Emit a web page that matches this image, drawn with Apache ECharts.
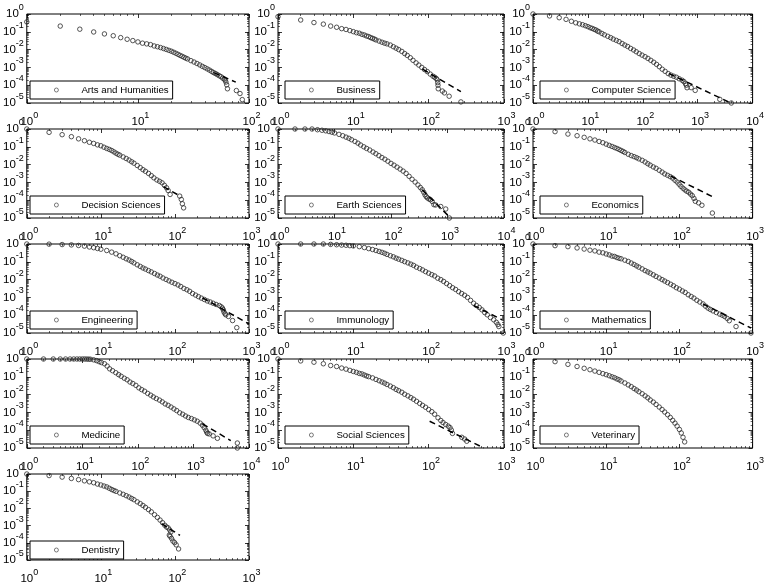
<!DOCTYPE html>
<html><head><meta charset="utf-8">
<script src="https://cdn.jsdelivr.net/npm/echarts@6/dist/echarts.min.js"></script>
<style>html,body{margin:0;padding:0;background:#fff}#c{width:767px;height:585px}</style>
</head><body><div id="c"></div>
<script>
const panelNames = ['Arts and Humanities','Business','Computer Science','Decision Sciences','Earth Sciences','Economics','Engineering','Immunology','Mathematics','Medicine','Social Sciences','Veterinary','Dentistry'];
const xAxisMax = [100,1000,10000,1000,10000,1000,1000,1000,1000,10000,1000,1000,1000];

const artsData = [[1,0.36],[2,0.21],[3,0.14],[4,0.098],[5,0.076],[6,0.060],[7,0.047],[8,0.038],[9,0.032],[10,0.027],[11,0.023],[12,0.021],[13,0.019],[14,0.016],[15,0.0145],[16,0.013],[17,0.0115],[18,0.0102],[19,9.1e-3],[20,8.1e-3],[21,7.1e-3],[22,6.2e-3],[23,5.4e-3],[24,4.7e-3],[25,4.2e-3],[26,3.7e-3],[27,3.3e-3],[28,3.0e-3],[30,2.4e-3],[32,2.0e-3],[34,1.66e-3],[36,1.38e-3],[38,1.15e-3],[40,9.8e-4],[42,8.3e-4],[44,7.1e-4],[46,6.0e-4],[48,5.1e-4],[50,4.5e-4],[52,3.9e-4],[54,3.4e-4],[56,3.0e-4],[58,2.5e-4],[60,2.2e-4],[61,1.9e-4],[62,1.5e-4],[63,1.05e-4],[64,6.3e-5],[77,5.0e-5],[83,3.4e-5],[87,1.55e-5]];
const businessData = [[1,0.71],[2,0.46],[3,0.33],[4,0.27],[5,0.21],[6,0.18],[7,0.15],[8,0.135],[9,0.117],[10,0.102],[11,0.089],[12,0.083],[13,0.072],[14,0.066],[15,0.058],[16,0.054],[17,0.047],[18,0.043],[19,0.039],[20,0.035],[22,0.030],[24,0.026],[26,0.023],[28,0.021],[31,0.018],[34,0.0145],[37,0.012],[40,0.010],[44,7.9e-3],[48,6.0e-3],[52,4.7e-3],[57,3.5e-3],[62,2.5e-3],[68,1.8e-3],[74,1.35e-3],[81,1.0e-3],[88,7.6e-4],[96,5.8e-4],[105,4.2e-4],[114,3.2e-4],[120,2.8e-4],[126,2.4e-4],[130,2.0e-4],[132,1.4e-4],[133,1.0e-4],[134,6.3e-5],[152,4.7e-5],[162,3.7e-5],[187,2.4e-5],[268,1.15e-5]];
const compSciData = [[1,1],[2,0.78],[3,0.62],[4,0.50],[5,0.39],[6,0.32],[7,0.28],[8,0.25],[9,0.22],[10,0.195],[11,0.17],[12,0.155],[13,0.138],[14,0.126],[15,0.11],[16,0.1],[18,0.081],[20,0.068],[23,0.056],[26,0.047],[29,0.039],[33,0.033],[37,0.028],[42,0.022],[47,0.018],[53,0.015],[60,0.0117],[68,9.5e-3],[76,7.6e-3],[86,6.0e-3],[97,4.9e-3],[110,4.0e-3],[124,3.2e-3],[140,2.5e-3],[158,1.95e-3],[178,1.48e-3],[200,1.1e-3],[226,7.9e-4],[255,6.0e-4],[290,4.5e-4],[325,3.7e-4],[365,3.2e-4],[410,2.8e-4],[460,2.3e-4],[520,1.9e-4],[560,1.6e-4],[600,1.23e-4],[620,1.0e-4],[640,7.2e-5],[760,7.3e-5],[900,5.1e-5],[2530,1.6e-5],[4100,1.0e-5]];
const decisionData = [[1,1],[2,0.65],[3,0.48],[4,0.37],[5,0.28],[6,0.22],[7,0.18],[8,0.155],[9,0.129],[10,0.115],[11,0.095],[12,0.081],[13,0.071],[14,0.062],[15,0.052],[16,0.044],[17,0.038],[18,0.034],[20,0.027],[22,0.022],[24,0.018],[26,0.0145],[28,0.012],[31,8.9e-3],[34,6.8e-3],[37,5.2e-3],[40,4.2e-3],[44,3.2e-3],[48,2.4e-3],[52,1.8e-3],[57,1.38e-3],[62,1.15e-3],[67,9.5e-4],[72,6.9e-4],[77,5.0e-4],[81,3.5e-4],[86,2.1e-4],[116,1.7e-4],[122,1.1e-4],[126,6.3e-5],[131,3.7e-5]];
const earthData = [[1,1],[2,1],[3,1],[4,1],[5,0.91],[6,0.85],[7,0.79],[8,0.72],[9,0.66],[10,0.60],[12,0.50],[14,0.42],[16,0.35],[18,0.30],[20,0.25],[23,0.20],[26,0.16],[29,0.126],[33,0.1],[37,0.081],[42,0.066],[48,0.051],[54,0.041],[61,0.032],[69,0.025],[78,0.020],[88,0.0155],[100,0.0117],[113,9.3e-3],[128,7.2e-3],[145,5.6e-3],[164,4.3e-3],[185,3.2e-3],[209,2.2e-3],[236,1.5e-3],[267,1.05e-3],[300,7.2e-4],[330,5.2e-4],[357,3.9e-4],[380,2.8e-4],[400,2.0e-4],[420,1.6e-4],[440,1.35e-4],[470,1.17e-4],[500,1.07e-4],[537,8.5e-5],[576,5.6e-5],[617,5.4e-5],[760,4.4e-5],[930,3.2e-5],[1080,1.0e-5]];
const economicsData = [[1,1],[2,0.71],[3,0.52],[4,0.42],[5,0.34],[6,0.28],[7,0.24],[8,0.20],[9,0.17],[10,0.141],[11,0.12],[12,0.105],[13,0.091],[14,0.081],[15,0.071],[16,0.062],[17,0.055],[18,0.048],[20,0.038],[22,0.032],[24,0.028],[26,0.0245],[28,0.021],[31,0.0174],[34,0.014],[37,0.0112],[40,9.3e-3],[44,7.4e-3],[48,6.2e-3],[53,4.8e-3],[58,3.8e-3],[63,3.0e-3],[69,2.5e-3],[75,2.1e-3],[81,1.74e-3],[87,1.32e-3],[93,1.05e-3],[99,7.9e-4],[105,6.0e-4],[112,4.7e-4],[119,3.8e-4],[126,3.2e-4],[134,2.8e-4],[142,2.2e-4],[150,1.8e-4],[158,1.26e-4],[165,8.7e-5],[183,7.1e-5],[203,5.2e-5],[282,1.9e-5]];
const engineeringData = [[1,1],[2,0.98],[3,0.93],[4,0.89],[5,0.83],[6,0.76],[7,0.68],[8,0.62],[9,0.56],[10,0.51],[12,0.43],[14,0.35],[16,0.28],[18,0.22],[20,0.18],[22,0.148],[24,0.126],[26,0.105],[28,0.087],[31,0.068],[34,0.055],[37,0.045],[40,0.039],[44,0.032],[48,0.027],[53,0.022],[58,0.018],[63,0.0155],[69,0.0123],[76,0.0102],[83,8.5e-3],[91,7.1e-3],[100,6.0e-3],[110,5.0e-3],[120,4.1e-3],[132,3.2e-3],[145,2.7e-3],[158,2.2e-3],[173,1.66e-3],[190,1.35e-3],[208,1.1e-3],[228,9.1e-4],[250,7.6e-4],[274,6.3e-4],[300,5.5e-4],[328,4.7e-4],[360,4.0e-4],[397,3.5e-4],[420,3.0e-4],[438,2.5e-4],[450,2.0e-4],[460,1.5e-4],[475,1.2e-4],[486,1.05e-4],[528,8.5e-5],[600,5.0e-5],[684,2.0e-5]];
const immunologyData = [[1,1],[2,1],[3,1],[4,1],[5,0.95],[6,0.91],[7,0.87],[8,0.85],[9,0.81],[10,0.78],[12,0.71],[14,0.63],[16,0.55],[18,0.49],[20,0.43],[22,0.38],[24,0.34],[26,0.30],[28,0.26],[31,0.22],[34,0.19],[37,0.16],[40,0.141],[44,0.12],[48,0.102],[53,0.087],[58,0.074],[63,0.063],[69,0.050],[76,0.042],[83,0.035],[91,0.028],[100,0.023],[110,0.019],[120,0.016],[132,0.012],[145,0.01],[158,7.9e-3],[173,6.0e-3],[190,4.6e-3],[208,3.5e-3],[228,2.8e-3],[250,2.1e-3],[274,1.66e-3],[300,1.32e-3],[328,1.0e-3],[360,6.8e-4],[395,4.7e-4],[430,3.5e-4],[470,2.7e-4],[510,2.0e-4],[555,1.4e-4],[600,1.05e-4],[660,7.4e-5],[730,5.5e-5],[790,4.0e-5],[830,3.0e-5],[855,2.3e-5],[980,1.0e-5]];
const mathData = [[1,1],[2,0.81],[3,0.71],[4,0.60],[5,0.52],[6,0.45],[7,0.41],[8,0.35],[9,0.32],[10,0.275],[11,0.245],[12,0.21],[13,0.20],[14,0.174],[15,0.158],[16,0.148],[18,0.123],[20,0.105],[22,0.085],[24,0.071],[26,0.059],[28,0.050],[31,0.040],[34,0.032],[37,0.027],[40,0.023],[44,0.0186],[48,0.0151],[53,0.0123],[58,0.010],[63,8.3e-3],[69,6.8e-3],[76,5.5e-3],[83,4.5e-3],[91,3.5e-3],[100,2.9e-3],[110,2.3e-3],[120,1.9e-3],[132,1.41e-3],[145,1.12e-3],[158,9.1e-4],[173,6.9e-4],[190,5.5e-4],[210,4.3e-4],[228,3.2e-4],[246,2.5e-4],[265,2.1e-4],[288,1.74e-4],[320,1.41e-4],[355,1.15e-4],[385,1.0e-4],[415,8.5e-5],[450,6.6e-5],[480,4.9e-5],[594,2.3e-5],[950,1.0e-5]];
const medicineData = [[1,1],[2,1],[3,1],[4,1],[5,1],[6,1],[7,1],[8,1],[9,1],[10,1],[11,1],[12,0.99],[13,0.98],[14,0.97],[16,0.9],[18,0.81],[20,0.71],[22,0.63],[25,0.54],[28,0.40],[31,0.28],[35,0.22],[40,0.17],[45,0.132],[50,0.107],[57,0.083],[64,0.068],[72,0.051],[81,0.042],[92,0.033],[104,0.024],[117,0.019],[132,0.0155],[150,0.0117],[170,9.3e-3],[190,7.4e-3],[215,6.0e-3],[245,4.9e-3],[275,3.9e-3],[310,3.0e-3],[350,2.5e-3],[395,2.0e-3],[445,1.58e-3],[500,1.26e-3],[565,9.5e-4],[640,7.9e-4],[720,6.3e-4],[810,5.2e-4],[920,4.5e-4],[1040,3.8e-4],[1170,3.2e-4],[1320,2.5e-4],[1450,1.9e-4],[1560,1.4e-4],[1670,1.0e-4],[1730,7.9e-5],[1790,6.6e-5],[1920,6.2e-5],[2260,4.8e-5],[2700,3.5e-5],[6170,1.9e-5],[6170,1.0e-5]];
const socialData = [[1,1],[2,0.78],[3,0.66],[4,0.54],[5,0.43],[6,0.38],[7,0.31],[8,0.27],[9,0.23],[10,0.20],[11,0.178],[12,0.155],[13,0.145],[14,0.126],[15,0.112],[16,0.102],[18,0.087],[20,0.071],[22,0.060],[24,0.051],[26,0.044],[28,0.037],[31,0.030],[34,0.0245],[37,0.0195],[40,0.0166],[44,0.0135],[48,0.0105],[53,8.5e-3],[58,6.8e-3],[63,5.5e-3],[69,4.2e-3],[76,3.2e-3],[83,2.5e-3],[91,1.95e-3],[100,1.45e-3],[110,1.1e-3],[120,7.9e-4],[133,5.0e-4],[145,3.5e-4],[155,2.7e-4],[168,2.1e-4],[182,1.7e-4],[192,1.4e-4],[200,1.02e-4],[207,6.6e-5],[275,4.0e-5],[300,3.2e-5],[320,2.4e-5]];
const veterinaryData = [[2,0.71],[3,0.50],[4,0.38],[5,0.30],[6,0.25],[7,0.21],[8,0.178],[9,0.151],[10,0.132],[11,0.115],[12,0.10],[13,0.089],[14,0.076],[15,0.068],[16,0.058],[18,0.045],[20,0.035],[22,0.028],[24,0.022],[26,0.018],[28,0.0145],[31,0.0112],[34,8.5e-3],[37,6.6e-3],[40,5.0e-3],[44,3.8e-3],[48,2.8e-3],[53,2.0e-3],[58,1.45e-3],[63,1.05e-3],[69,7.4e-4],[75,5.2e-4],[81,3.6e-4],[87,2.5e-4],[93,1.7e-4],[100,1.1e-4],[106,7e-5],[112,4e-5],[118,2.2e-5]];
const dentistryData = [[1,1],[2,0.81],[3,0.66],[4,0.55],[5,0.47],[6,0.40],[7,0.35],[8,0.31],[9,0.26],[10,0.23],[11,0.20],[12,0.178],[13,0.148],[14,0.126],[15,0.11],[16,0.098],[18,0.079],[20,0.066],[22,0.055],[24,0.046],[26,0.038],[28,0.032],[31,0.024],[34,0.019],[37,0.0148],[40,0.0115],[44,8.5e-3],[48,6.3e-3],[53,4.3e-3],[58,3.0e-3],[63,2.1e-3],[68,1.48e-3],[73,1.05e-3],[77,8.3e-4],[81,7.4e-4],[85,5.6e-4],[88,4.2e-4],[84,2.8e-4],[86,2.4e-4],[90,1.8e-4],[94,1.26e-4],[99,1.02e-4],[104,7.6e-5],[112,4.4e-5]];

const artsFit = [[48,5.1e-4],[76,1.5e-4]];
const businessFit = [[83,7.9e-4],[268,4.3e-5]];
const compSciFit = [[300,4.5e-4],[4000,1.0e-5]];
const decisionFit = [[70,5.8e-4],[118,1.7e-4]];
const earthFit = [[357,3.9e-4],[1070,1.2e-5]];
const economicsFit = [[76,2.3e-3],[290,1.5e-4]];
const engineeringFit = [[236,9.5e-4],[1000,3.2e-5]];
const immunologyFit = [[395,3.5e-4],[945,5.5e-5]];
const mathFit = [[210,4.3e-4],[950,1.9e-5]];
const medicineFit = [[1450,2.3e-4],[4700,2.6e-5]];
const socialFit = [[103,3.2e-4],[540,1.0e-5]];
const veterinaryFit = null;
const dentistryFit = [[66,1.3e-3],[117,2.7e-4]];

const panelData = [artsData,businessData,compSciData,decisionData,earthData,economicsData,engineeringData,immunologyData,mathData,medicineData,socialData,veterinaryData,dentistryData];
const panelFits = [artsFit,businessFit,compSciFit,decisionFit,earthFit,economicsFit,engineeringFit,immunologyFit,mathFit,medicineFit,socialFit,veterinaryFit,dentistryFit];

const colLeft = [23, 278, 533], rowTop = [14, 129, 244, 359, 474], plotW = 226, plotH = 89;
const FONT = '"Liberation Sans", Arial, Helvetica, sans-serif';
const richY = {base:{fontSize:11.5,fontFamily:FONT,color:'#000',padding:[5,0,5,0]}, sup:{fontSize:9,fontFamily:FONT,color:'#000',padding:[0,0,13,0]}};
const richX = {base:{fontSize:11.5,fontFamily:FONT,color:'#000',padding:[5,0,5,5]}, sup:{fontSize:9,fontFamily:FONT,color:'#000',padding:[0,0,13,0]}};
function expLabel(v){ const e = Math.round(Math.log10(v)); return '{base|10}{sup|' + e + '}'; }
const tickStyle = {show:true, inside:true, length:4, lineStyle:{color:'#000', width:0.8}};
const minorStyle = {show:true, splitNumber:9, length:2, lineStyle:{color:'#000', width:0.6}};

const grids=[], xAxes=[], yAxes=[], series=[], legends=[], xTop=[], yRight=[];
panelNames.forEach((name,i)=>{
  const c = i % 3, r = Math.floor(i / 3);
  grids.push({left:colLeft[c], top:rowTop[r], width:plotW, height:plotH, show:true, borderColor:'#000', borderWidth:1, backgroundColor:'#fff'});
  xAxes.push({type:'log', logBase:10, gridIndex:i, min:1, max:xAxisMax[i], position:'bottom',
    axisLine:{show:false}, axisTick:tickStyle, minorTick:minorStyle, splitLine:{show:false}, minorSplitLine:{show:false},
    axisLabel:{margin:8, fontSize:11.5, fontFamily:FONT, color:'#000', formatter:expLabel, rich:richX}});
  yAxes.push({type:'log', logBase:10, gridIndex:i, min:1e-5, max:1, position:'left',
    axisLine:{show:false}, axisTick:tickStyle, minorTick:minorStyle, splitLine:{show:false}, minorSplitLine:{show:false},
    axisLabel:{margin:3, fontSize:11.5, fontFamily:FONT, color:'#000', formatter:expLabel, rich:richY}});
  xTop.push({type:'log', logBase:10, gridIndex:i, min:1, max:xAxisMax[i], position:'top',
    axisLine:{show:false}, axisTick:tickStyle, minorTick:minorStyle, splitLine:{show:false}, axisLabel:{show:false}});
  yRight.push({type:'log', logBase:10, gridIndex:i, min:1e-5, max:1, position:'right',
    axisLine:{show:false}, axisTick:tickStyle, minorTick:minorStyle, splitLine:{show:false}, axisLabel:{show:false}});
  series.push({name:name, type:'scatter', xAxisIndex:i, yAxisIndex:i, data:panelData[i],
    symbol:'circle', symbolSize:4.5, itemStyle:{color:'rgba(255,255,255,0)', borderColor:'#2a2a2a', borderWidth:1},
    emphasis:{disabled:true}, z:2});
  if (panelFits[i]) series.push({name:name+' fit', type:'line', xAxisIndex:i, yAxisIndex:i, data:panelFits[i],
    symbol:'none', lineStyle:{color:'#000', width:1.5, type:[6,4]}, z:3, emphasis:{disabled:true}});
  legends.push({data:[{name:name, icon:'circle'}], left:colLeft[c]+7, top:rowTop[r]+67, orient:'horizontal',
    borderColor:'#000', borderWidth:1, backgroundColor:'#fff', padding:[4,4,4,24], itemWidth:40, itemHeight:4,
    selectedMode:false, itemStyle:{color:'rgba(255,255,255,0)', borderColor:'#333', borderWidth:0.8},
    textStyle:{fontSize:9.7, fontFamily:FONT, color:'#000'}});
});

const chart = echarts.init(document.getElementById('c'), null, {renderer:'canvas'});
chart.setOption({
  animation:false, backgroundColor:'#fff',
  grid:grids, xAxis:xAxes.concat(xTop), yAxis:yAxes.concat(yRight), legend:legends, series:series
});
</script></body></html>
